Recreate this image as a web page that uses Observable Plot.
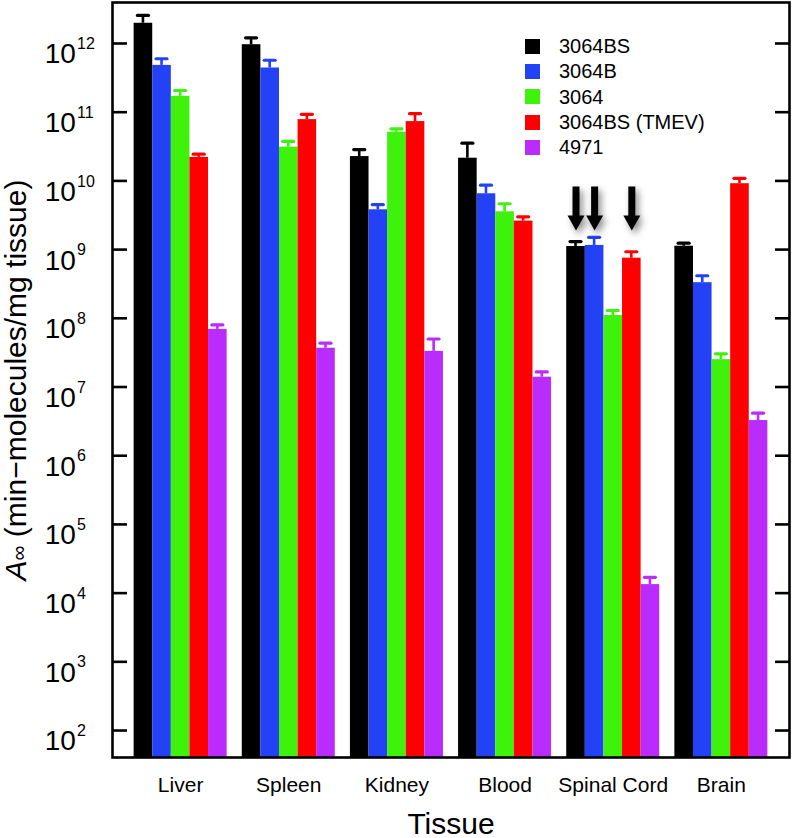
<!DOCTYPE html>
<html><head><meta charset="utf-8">
<script src="https://cdn.jsdelivr.net/npm/d3@7"></script>
<script src="https://cdn.jsdelivr.net/npm/@observablehq/plot@0.6"></script>
<style>
body{margin:0;background:#fff;}
#wrap{position:relative;width:792px;height:838px;font-family:"Liberation Sans",Arial,sans-serif;}
#legend{position:absolute;left:525px;top:33.5px;}
.row{display:flex;align-items:center;height:25.3px;}
.sw{width:15px;height:15px;margin-right:19px;flex:none;}
.lab{font-size:20px;color:#000;line-height:1;}
</style></head><body><div id="wrap"><div id="legend"></div></div>
<script>
// ---- data ----
const tissues = ["Liver", "Spleen", "Kidney", "Blood", "Spinal Cord", "Brain"];
const series = ["3064BS", "3064B", "3064", "3064BS (TMEV)", "4971"];
const colors = ["#000000", "#2342f6", "#3ef20c", "#fe0000", "#b92cfc"];
// bar heights (tissue order)
const v3064BS      = [1.97e12, 9.6e11, 2.26e10, 2.14e10, 1.11e9, 1.12e9];
const v3064B       = [4.8e11, 4.4e11, 3.8e9, 6.5e9, 1.15e9, 3.3e8];
const v3064        = [1.7e11, 3.1e10, 5.1e10, 3.55e9, 1.1e8, 2.5e7];
const v3064BS_TMEV = [2.2e10, 7.8e10, 7.3e10, 2.6e9, 7.5e8, 9.1e9];
const v4971        = [6.9e7, 3.67e7, 3.3e7, 1.39e7, 1.33e4, 3.25e6];
// upper ends of error bars (tissue order)
const u3064BS      = [2.56e12, 1.21e12, 2.86e10, 3.54e10, 1.31e9, 1.24e9];
const u3064B       = [6.0e11, 5.7e11, 4.5e9, 8.65e9, 1.51e9, 4.16e8];
const u3064        = [2.07e11, 3.75e10, 5.7e10, 4.65e9, 1.3e8, 3.04e7];
const u3064BS_TMEV = [2.45e10, 9.3e10, 9.5e10, 3.0e9, 9.3e8, 1.09e10];
const u4971        = [8.0e7, 4.35e7, 5.0e7, 1.66e7, 1.7e4, 4.16e6];
const yTicks = [1e2, 1e3, 1e4, 1e5, 1e6, 1e7, 1e8, 1e9, 1e10, 1e11, 1e12];
const yDomain = [40.5, 3.95e12];
const arrowTissue = "Spinal Cord";
const arrowSeries = ["3064BS", "3064B", "3064BS (TMEV)"];
const arrowTip = 1.9e9;
const xTitle = "Tissue";
const yTitle = "A∞ (min\u2212molecules/mg tissue)";

// ---- layout ----
const W = 792, H = 838, ML = 112, MR = 3, MT = 2, MB = 81;
const pI = 0.14, pO = 0.2;
const PW = W - ML - MR;
const step = PW / (tissues.length - pI + 2 * pO);
const bw = step * (1 - pI);
const sub = bw / series.length;

const valuesBySeries = [v3064BS, v3064B, v3064, v3064BS_TMEV, v4971];
const uppersBySeries = [u3064BS, u3064B, u3064, u3064BS_TMEV, u4971];
const rows = series.flatMap((s, i) => tissues.map((t, j) => ({
  tissue: t, series: s, si: i, value: valuesBySeries[i][j], upper: uppersBySeries[i][j]
})));

const marks = [];
series.forEach((s, i) => {
  const data = rows.filter(r => r.si === i);
  const L = i * sub, R = (series.length - 1 - i) * sub;
  marks.push(Plot.barY(data, {x: "tissue", y1: yDomain[0], y2: "value", fill: colors[i], insetLeft: L, insetRight: R}));
  marks.push(Plot.barY(data, {x: "tissue", y1: "value", y2: "upper", fill: colors[i], insetLeft: L + sub / 2 - 1.3, insetRight: R + sub / 2 - 1.3}));
  marks.push(Plot.tickY(data, {x: "tissue", y: "upper", stroke: colors[i], strokeWidth: 3.2, strokeLinecap: "round", insetLeft: L + sub / 2 - 5.5, insetRight: R + sub / 2 - 5.5}));
});
marks.push(Plot.frame({stroke: "black", strokeWidth: 2.6}));
marks.push(Plot.tickY(yTicks, {y: d => d, stroke: "black", strokeWidth: 2.6, insetRight: PW - 15}));
marks.push(Plot.tickY(yTicks, {y: d => d, stroke: "black", strokeWidth: 2.6, insetLeft: PW - 14}));
marks.push(Plot.text(yTicks, {y: d => d, text: () => "10", frameAnchor: "left", textAnchor: "start", dx: -67.8, dy: 11, fontSize: 28, fill: "black"}));
marks.push(Plot.text(yTicks, {y: d => d, text: d => String(Math.round(Math.log10(d))), frameAnchor: "left", textAnchor: "start", dx: -35.5, dy: 0.5, fontSize: 16, fill: "black"}));
marks.push(Plot.axisX({tickSize: 0, tickPadding: 20, fontSize: 21, label: null, fill: "black"}));
marks.push(Plot.text([xTitle], {text: d => d, frameAnchor: "bottom", lineAnchor: "bottom", textAnchor: "middle", dy: 76, fontSize: 30, fill: "black"}));
marks.push(Plot.text([yTitle], {text: d => d, frameAnchor: "left", textAnchor: "middle", rotate: -90, dx: -96.6, fontSize: 30, fill: "black"}));

const arrowSymbol = {draw(ctx) {
  ctx.moveTo(-3.5, -44); ctx.lineTo(3.5, -44); ctx.lineTo(3.5, -15); ctx.lineTo(8.5, -15);
  ctx.lineTo(0, 0); ctx.lineTo(-8.5, -15); ctx.lineTo(-3.5, -15); ctx.closePath();
}};
arrowSeries.forEach(s => {
  const i = series.indexOf(s);
  marks.push(Plot.dot([{tissue: arrowTissue, tip: arrowTip}], {x: "tissue", y: "tip", symbol: arrowSymbol, fill: "black", stroke: "none", dx: (i - (series.length - 1) / 2) * sub}));
});

const chart = Plot.plot({
  width: W, height: H, marginLeft: ML, marginRight: MR, marginTop: MT, marginBottom: MB,
  style: {fontFamily: "'Liberation Sans', Arial, sans-serif", color: "black", background: "white", overflow: "visible"},
  x: {type: "band", domain: tissues, paddingInner: pI, paddingOuter: pO, align: 0.5, round: false},
  y: {type: "log", domain: yDomain, axis: null},
  marks
});

// shadow for arrows
const ns = "http://www.w3.org/2000/svg";
const defs = document.createElementNS(ns, "defs");
defs.innerHTML = '<filter id="arrowShadow" x="-100%" y="-50%" width="300%" height="200%"><feDropShadow dx="3" dy="4" stdDeviation="3.5" flood-color="#000" flood-opacity="0.45"/></filter>';
chart.insertBefore(defs, chart.firstChild);
chart.querySelectorAll('g[aria-label="dot"]').forEach(g => g.setAttribute("filter", "url(#arrowShadow)"));

// rich y title: italic A, small ∞
chart.querySelectorAll("text").forEach(t => {
  if (t.textContent === yTitle) {
    t.textContent = "";
    const a = document.createElementNS(ns, "tspan"); a.setAttribute("font-style", "italic"); a.textContent = "A";
    const inf = document.createElementNS(ns, "tspan"); inf.setAttribute("font-size", "21"); inf.textContent = "∞";
    const rest = document.createElementNS(ns, "tspan"); rest.textContent = yTitle.slice(2);
    t.append(a, inf, rest);
  }
});

const wrap = document.getElementById("wrap");
wrap.insertBefore(chart, wrap.firstChild);

// legend
const legend = document.getElementById("legend");
series.forEach((s, i) => {
  const row = document.createElement("div"); row.className = "row";
  const sw = document.createElement("div"); sw.className = "sw"; sw.style.background = colors[i];
  const lab = document.createElement("span"); lab.className = "lab"; lab.textContent = s;
  row.append(sw, lab); legend.append(row);
});
</script></body></html>
